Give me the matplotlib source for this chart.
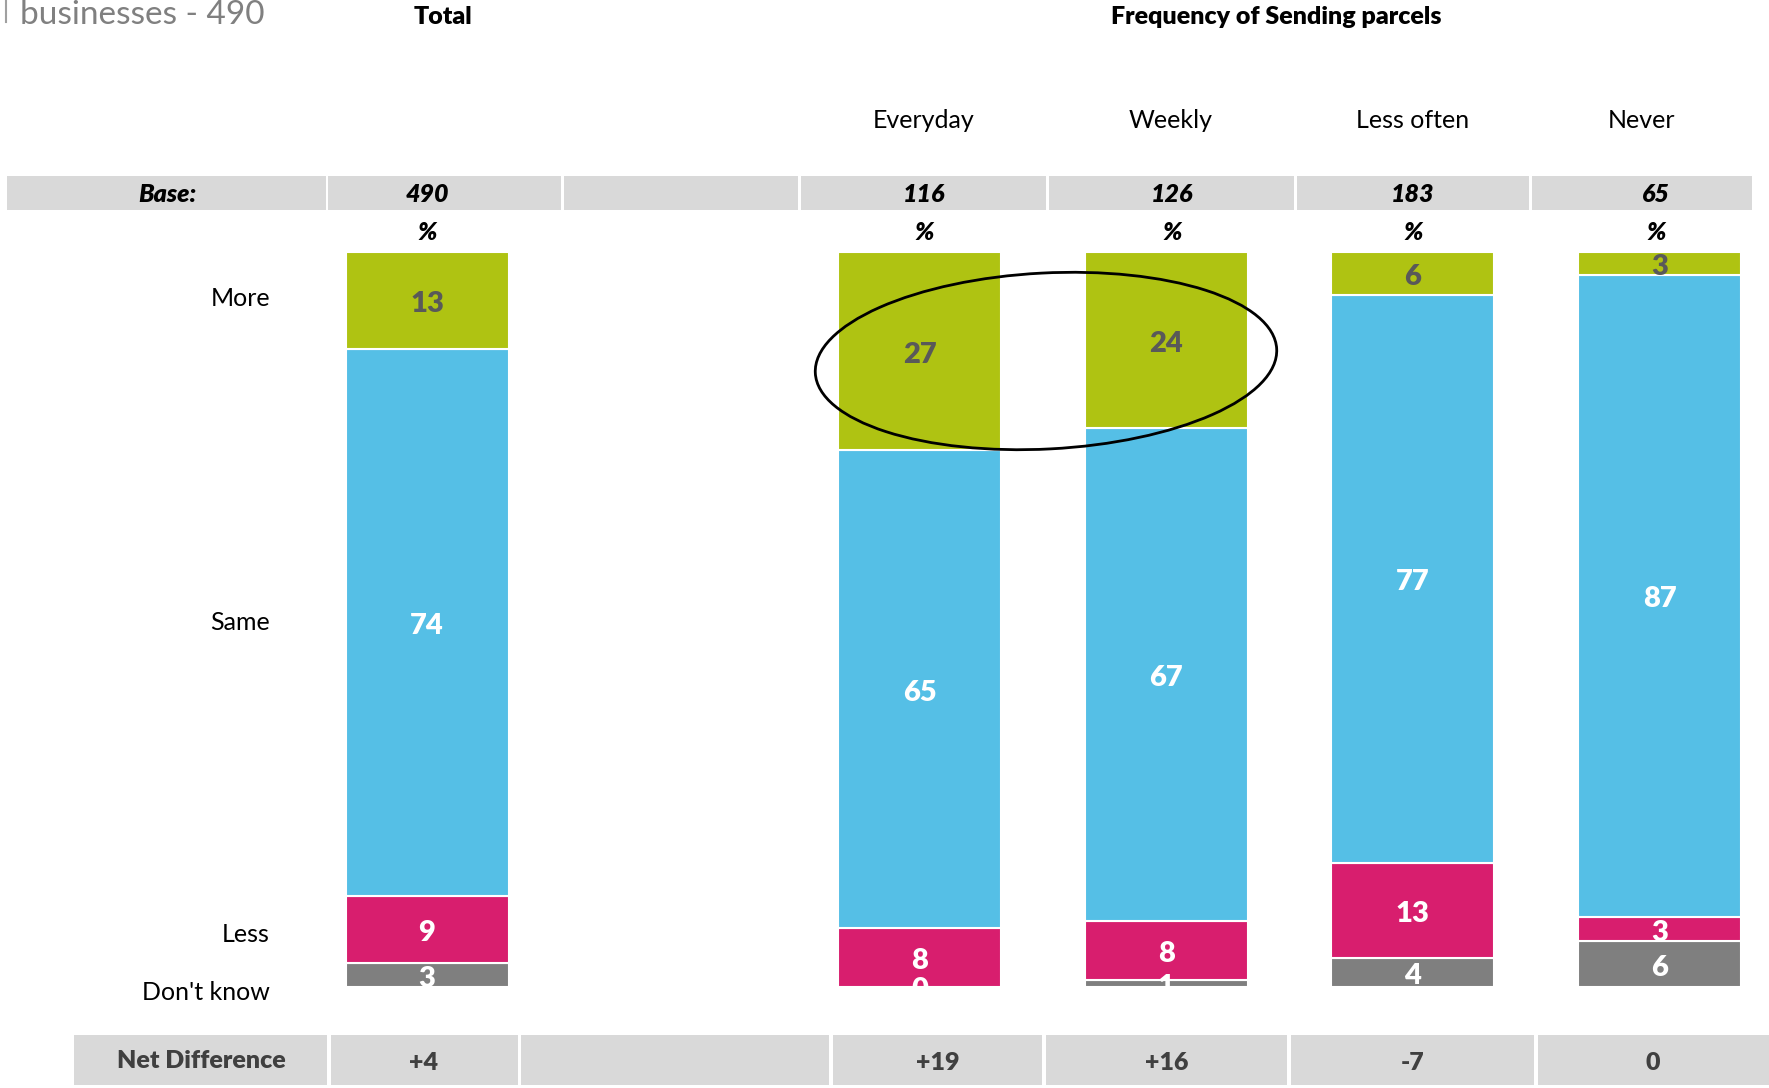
import matplotlib
matplotlib.use("Agg")
import matplotlib.pyplot as plt
from matplotlib.patches import Ellipse, Rectangle
from matplotlib.transforms import ScaledTranslation

# ---------------- DATA ----------------

groups = ["Total", "Everyday", "Weekly", "Less often", "Never"]
bases = ["490", "116", "126", "183", "65"]
net_diff = ["+4", "+19", "+16", "-7", "0"]
row_labels = ["More", "Same", "Less", "Don't know"]

# stacked shares (%)
more = [13.2, 27.0, 24.0, 5.8, 3.1]
same = [74.4, 65.0, 67.0, 77.3, 87.4]
less = [9.2, 8.0, 8.0, 12.9, 3.3]
dont_know = [3.2, 0.0, 1.0, 4.0, 6.2]

# ---------------- STYLE ----------------

W, H = 1769, 1088
C_MORE = "#AFC312"
C_SAME = "#55BFE6"
C_LESS = "#D81E6E"
C_DK = "#7F7F7F"
C_BAND = "#D9D9D9"

plt.rcParams["font.family"] = ["Lato", "DejaVu Sans"]

fig = plt.figure(figsize=(W / 100, H / 100), dpi=100)

BAR_TOP, BAR_BOTTOM = 252, 987
STEP = 246.7          # px between frequency bars
BAR_W = 163 / STEP    # bar width in category units


def frac_box(left_px, right_px):
    return [left_px / W, 1 - BAR_BOTTOM / H, (right_px - left_px) / W,
            (BAR_BOTTOM - BAR_TOP) / H]


# Total bar axes and frequency axes
ax_tot = fig.add_axes(frac_box(427 - 0.5 * STEP, 427 + 0.5 * STEP))
ax_frq = fig.add_axes(frac_box(919.5 - 0.5 * STEP, 919.5 + 3.45 * STEP))
ax_tot.set_xlim(-0.5, 0.5)
ax_frq.set_xlim(-0.5, 3.45)

segments = [
    (dont_know, C_DK, "white"),
    (less, C_LESS, "white"),
    (same, C_SAME, "white"),
    (more, C_MORE, "#595959"),
]

nudge = ScaledTranslation(0, -2.5 / 72, fig.dpi_scale_trans)


def draw_stack(ax, idx):
    xs = list(range(len(idx)))
    bottom = [0.0] * len(idx)
    for vals, col, tcol in segments:
        v = [vals[i] for i in idx]
        ax.bar(xs, v, bottom=bottom, width=BAR_W, color=col,
               edgecolor="white", linewidth=1.5)
        for x, b, h in zip(xs, bottom, v):
            ax.text(x, b + h / 2, f"{h:.0f}", ha="center", va="center",
                    fontsize=21, fontweight="heavy", color=tcol,
                    clip_on=True, transform=ax.transData + nudge)
        bottom = [b + h for b, h in zip(bottom, v)]
    ax.set_ylim(0, 100)
    ax.axis("off")


draw_stack(ax_tot, [0])
draw_stack(ax_frq, [1, 2, 3, 4])

# ---------------- overlay for table / text ----------------
ov = fig.add_axes([0, 0, 1, 1], zorder=5)
ov.set_xlim(0, W)
ov.set_ylim(H, 0)
ov.axis("off")
ov.patch.set_alpha(0)

col_x = [427, 924, 1172, 1413, 1656]
head_x = [924, 1171, 1413, 1642]

# base band
base_cells = [(7, 326), (328, 561), (564, 798), (801, 1046), (1049, 1294),
              (1297, 1529), (1532, 1752)]
for l, r in base_cells:
    ov.add_patch(Rectangle((l, 176), r - l, 34, color=C_BAND, lw=0))
ov.text(167, 195, "Base:", ha="center", va="center", fontsize=18,
        fontweight="heavy", style="italic")
for x, b in zip(col_x, bases):
    ov.text(x, 195, b, ha="center", va="center", fontsize=18,
            fontweight="heavy", style="italic")
    ov.text(x, 233, "%", ha="center", va="center", fontsize=18,
            fontweight="heavy", style="italic")

# net difference band
net_cells = [(74, 327), (331, 518), (521, 829), (833, 1042), (1046, 1287),
             (1291, 1534), (1538, 1769)]
for l, r in net_cells:
    ov.add_patch(Rectangle((l, 1035), r - l, 50, color=C_BAND, lw=0))
ov.text(201, 1061, "Net Difference", ha="center", va="center", fontsize=18,
        fontweight="heavy", color="#404040")
net_x = [424, 938, 1167, 1413, 1653]
for x, n in zip(net_x, net_diff):
    ov.text(x, 1063, n, ha="center", va="center", fontsize=18,
            fontweight="heavy", color="#404040")

# titles and headers
ov.text(20, 15, "businesses - 490", ha="left", va="center", fontsize=24,
        color="#808080")
ov.plot([6, 6], [0, 22], color="#A0A0A0", lw=1.5)
ov.text(443, 17, "Total", ha="center", va="center", fontsize=18,
        fontweight="heavy")
ov.text(1276, 17, "Frequency of Sending parcels", ha="center", va="center",
        fontsize=18, fontweight="heavy")
for x, g in zip(head_x, groups[1:]):
    ov.text(x, 120, g, ha="center", va="center", fontsize=18)

# row labels
for y, lab in zip([299, 623, 935, 992], row_labels):
    ov.text(270, y, lab, ha="right", va="center", fontsize=18)

# highlight ellipse
ov.add_patch(Ellipse((1046, 361), 462, 176, angle=-3, fill=False,
                     edgecolor="black", lw=2, clip_on=False))

fig.savefig("out.png", dpi=100)
